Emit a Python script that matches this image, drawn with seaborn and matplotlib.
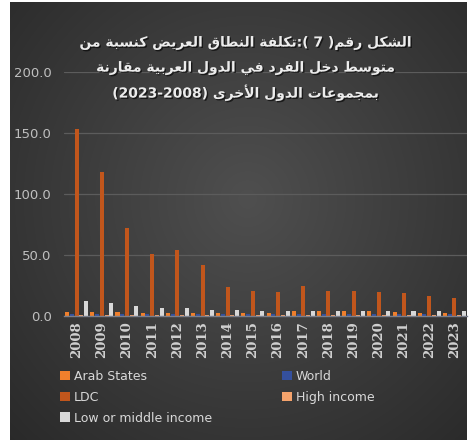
import numpy as np
import pandas as pd
import matplotlib
matplotlib.use("Agg")
import matplotlib.pyplot as plt
import matplotlib.patheffects as pe
from matplotlib.patches import Patch
import seaborn as sns

# ---------------------------------------------------------------- data
years = [str(y) for y in range(2008, 2024)]
series = ["Arab States", "World", "LDC", "High income", "Low or middle income"]

arab_states = [3.5, 3.5, 3.0, 2.5, 2.5, 2.5, 2.5, 2.5, 2.5, 4.5, 4.0, 4.0, 4.0, 3.5, 2.5, 2.5]
world = [2.0, 2.0, 2.0, 1.5, 1.5, 1.5, 1.5, 1.5, 1.5, 1.5, 1.5, 1.5, 1.5, 1.5, 1.5, 1.5]
ldc = [153.0, 118.0, 72.5, 50.5, 54.0, 41.5, 23.5, 20.5, 19.5, 24.5, 20.5, 20.5, 19.5, 18.5, 16.0, 14.5]
high_income = [1.0, 1.0, 1.0, 0.8, 0.8, 0.8, 0.8, 0.7, 0.7, 0.7, 0.7, 0.7, 0.7, 0.6, 0.6, 0.6]
low_middle = [12.5, 11.0, 8.5, 6.5, 6.5, 5.0, 5.0, 4.5, 4.5, 4.5, 4.0, 4.5, 4.0, 4.0, 4.0, 4.0]

y_ticks = [0, 50, 100, 150, 200]

title_lines = [
    "الشكل رقم( 7 ):تكلفة النطاق العريض كنسبة من",
    "متوسط دخل الفرد في الدول العربية مقارنة",
    "بمجموعات الدول الأخرى",
]
title_years = "(2023-2008)"

colors = {
    "Arab States": "#f07f2c",
    "World": "#34509e",
    "LDC": "#c1561c",
    "High income": "#f5a36c",
    "Low or middle income": "#d8d8d8",
}

# ------------------------------------------------- Arabic text shaping
# (isolated, final, initial, medial) presentation forms
FORMS = {
    "\u0627": (0xFE8D, 0xFE8E, None, None), "\u0623": (0xFE83, 0xFE84, None, None),
    "\u0625": (0xFE87, 0xFE88, None, None), "\u0622": (0xFE81, 0xFE82, None, None),
    "\u0628": (0xFE8F, 0xFE90, 0xFE91, 0xFE92), "\u0629": (0xFE93, 0xFE94, None, None),
    "\u062A": (0xFE95, 0xFE96, 0xFE97, 0xFE98), "\u062B": (0xFE99, 0xFE9A, 0xFE9B, 0xFE9C),
    "\u062C": (0xFE9D, 0xFE9E, 0xFE9F, 0xFEA0), "\u062D": (0xFEA1, 0xFEA2, 0xFEA3, 0xFEA4),
    "\u062E": (0xFEA5, 0xFEA6, 0xFEA7, 0xFEA8), "\u062F": (0xFEA9, 0xFEAA, None, None),
    "\u0630": (0xFEAB, 0xFEAC, None, None), "\u0631": (0xFEAD, 0xFEAE, None, None),
    "\u0632": (0xFEAF, 0xFEB0, None, None), "\u0633": (0xFEB1, 0xFEB2, 0xFEB3, 0xFEB4),
    "\u0634": (0xFEB5, 0xFEB6, 0xFEB7, 0xFEB8), "\u0635": (0xFEB9, 0xFEBA, 0xFEBB, 0xFEBC),
    "\u0636": (0xFEBD, 0xFEBE, 0xFEBF, 0xFEC0), "\u0637": (0xFEC1, 0xFEC2, 0xFEC3, 0xFEC4),
    "\u0638": (0xFEC5, 0xFEC6, 0xFEC7, 0xFEC8), "\u0639": (0xFEC9, 0xFECA, 0xFECB, 0xFECC),
    "\u063A": (0xFECD, 0xFECE, 0xFECF, 0xFED0), "\u0641": (0xFED1, 0xFED2, 0xFED3, 0xFED4),
    "\u0642": (0xFED5, 0xFED6, 0xFED7, 0xFED8), "\u0643": (0xFED9, 0xFEDA, 0xFEDB, 0xFEDC),
    "\u0644": (0xFEDD, 0xFEDE, 0xFEDF, 0xFEE0), "\u0645": (0xFEE1, 0xFEE2, 0xFEE3, 0xFEE4),
    "\u0646": (0xFEE5, 0xFEE6, 0xFEE7, 0xFEE8), "\u0647": (0xFEE9, 0xFEEA, 0xFEEB, 0xFEEC),
    "\u0648": (0xFEED, 0xFEEE, None, None), "\u0649": (0xFEEF, 0xFEF0, None, None),
    "\u064A": (0xFEF1, 0xFEF2, 0xFEF3, 0xFEF4),
}
LAM_ALEF = {"\u0627": (0xFEFB, 0xFEFC), "\u0623": (0xFEF7, 0xFEF8),
            "\u0625": (0xFEF9, 0xFEFA), "\u0622": (0xFEF5, 0xFEF6)}
MIRROR = {"(": ")", ")": "("}


def joins_forward(ch):
    return ch in FORMS and FORMS[ch][2] is not None


def shape_arabic(text):
    """Contextual forms + visual (left-to-right) ordering for matplotlib."""
    out = []
    i, n = 0, len(text)
    while i < n:
        ch = text[i]
        prev = text[i - 1] if i > 0 else ""
        linked = joins_forward(prev)
        if ch == "\u0644" and i + 1 < n and text[i + 1] in LAM_ALEF:
            iso, fin = LAM_ALEF[text[i + 1]]
            out.append(chr(fin if linked else iso))
            i += 2
            continue
        if ch in FORMS:
            iso, fin, ini, med = FORMS[ch]
            nxt = text[i + 1] if i + 1 < n else ""
            to_next = ini is not None and nxt in FORMS
            if linked and to_next:
                out.append(chr(med))
            elif linked:
                out.append(chr(fin))
            elif to_next:
                out.append(chr(ini))
            else:
                out.append(chr(iso))
        else:
            out.append(ch)
        i += 1
    # reverse for display, keeping digit runs in reading order
    tokens, buf = [], ""
    for ch in out:
        if ch.isdigit():
            buf += ch
        else:
            if buf:
                tokens.append(buf)
                buf = ""
            tokens.append(MIRROR.get(ch, ch))
    if buf:
        tokens.append(buf)
    return "".join(reversed(tokens))


# ---------------------------------------------------------------- figure
sns.set_theme(style="dark")
plt.rcParams["font.family"] = ["DejaVu Sans"]

W, H = 470, 441
fig = plt.figure(figsize=(W / 100, H / 100), dpi=100)
fig.patch.set_facecolor("white")

# dark panel with a soft radial gradient
bg = fig.add_axes([10 / W, 1 / H, 457 / W, 438 / H])
gy, gx = np.mgrid[0:1:300j, 0:1:300j]
r = np.sqrt(((gx - 0.52) / 0.75) ** 2 + ((gy - 0.45) / 0.8) ** 2)
shade = np.clip(0.31 - 0.15 * r, 0.15, 0.31)
bg.imshow(np.dstack([shade, shade, shade]), aspect="auto", extent=[0, 1, 0, 1],
          interpolation="bilinear")
bg.set_axis_off()

ax = fig.add_axes([64 / W, (H - 316) / H, (467 - 64) / W, (316 - 72) / H])
ax.set_facecolor("none")

df = pd.DataFrame({
    "year": np.tile(years, len(series)),
    "series": np.repeat(series, len(years)),
    "value": np.concatenate([arab_states, world, ldc, high_income, low_middle]),
})

sns.barplot(data=df, x="year", y="value", hue="series", hue_order=series,
            palette=colors, width=0.94, gap=0.15, saturation=1, ax=ax,
            legend=False, errorbar=None, linewidth=0)

ax.set_ylim(0, 200)
ax.set_xlim(-0.5, len(years) - 0.5)
ax.set_yticks(y_ticks)
ax.set_yticklabels([f"{v:.1f}" for v in y_ticks], color="#bfbfbf", fontsize=9.5)
ax.tick_params(axis="y", length=0, pad=9)
ax.tick_params(axis="x", length=0, pad=4)
ax.set_xticks(range(len(years)))
ax.set_xticklabels(years, rotation=90, color="#d0d0d0", fontsize=9.5,
                   family="DejaVu Serif", fontweight="bold")
ax.set_xlabel("")
ax.set_ylabel("")
ax.yaxis.grid(True, color="#5c5c5c", linewidth=0.9)
ax.xaxis.grid(False)
ax.set_axisbelow(True)
for side in ["top", "right", "left"]:
    ax.spines[side].set_visible(False)
ax.spines["bottom"].set_color("#7a7f8c")
ax.spines["bottom"].set_linewidth(1.0)

# title block
shadow = [pe.withSimplePatchShadow(offset=(1, -1), shadow_rgbFace="black", alpha=0.6)]
line_y = [43, 68, 93]
for k, (txt, yy) in enumerate(zip(title_lines, line_y)):
    s = shape_arabic(txt)
    if k == 2:
        s = title_years + " " + s
    fig.text(246 / W, 1 - yy / H, s, ha="center", va="center", color="#ececec",
             fontsize=10, fontweight="bold", family="DejaVu Sans",
             path_effects=shadow)

# legend: two columns placed side by side
legend_cols = [(["Arab States", "LDC", "Low or middle income"], 55),
               (["World", "High income"], 277)]
for names, x0 in legend_cols:
    handles = [Patch(facecolor=colors[n], edgecolor="none", label=n) for n in names]
    fig.legend(handles=handles, loc="upper left", bbox_to_anchor=(x0 / W, 1 - 365 / H),
               ncol=1, frameon=False, fontsize=9, labelcolor="#d8d8d8",
               handlelength=0.8, handleheight=0.8, handletextpad=0.3,
               labelspacing=0.62, borderaxespad=0)

fig.savefig("out.png", dpi=100)
